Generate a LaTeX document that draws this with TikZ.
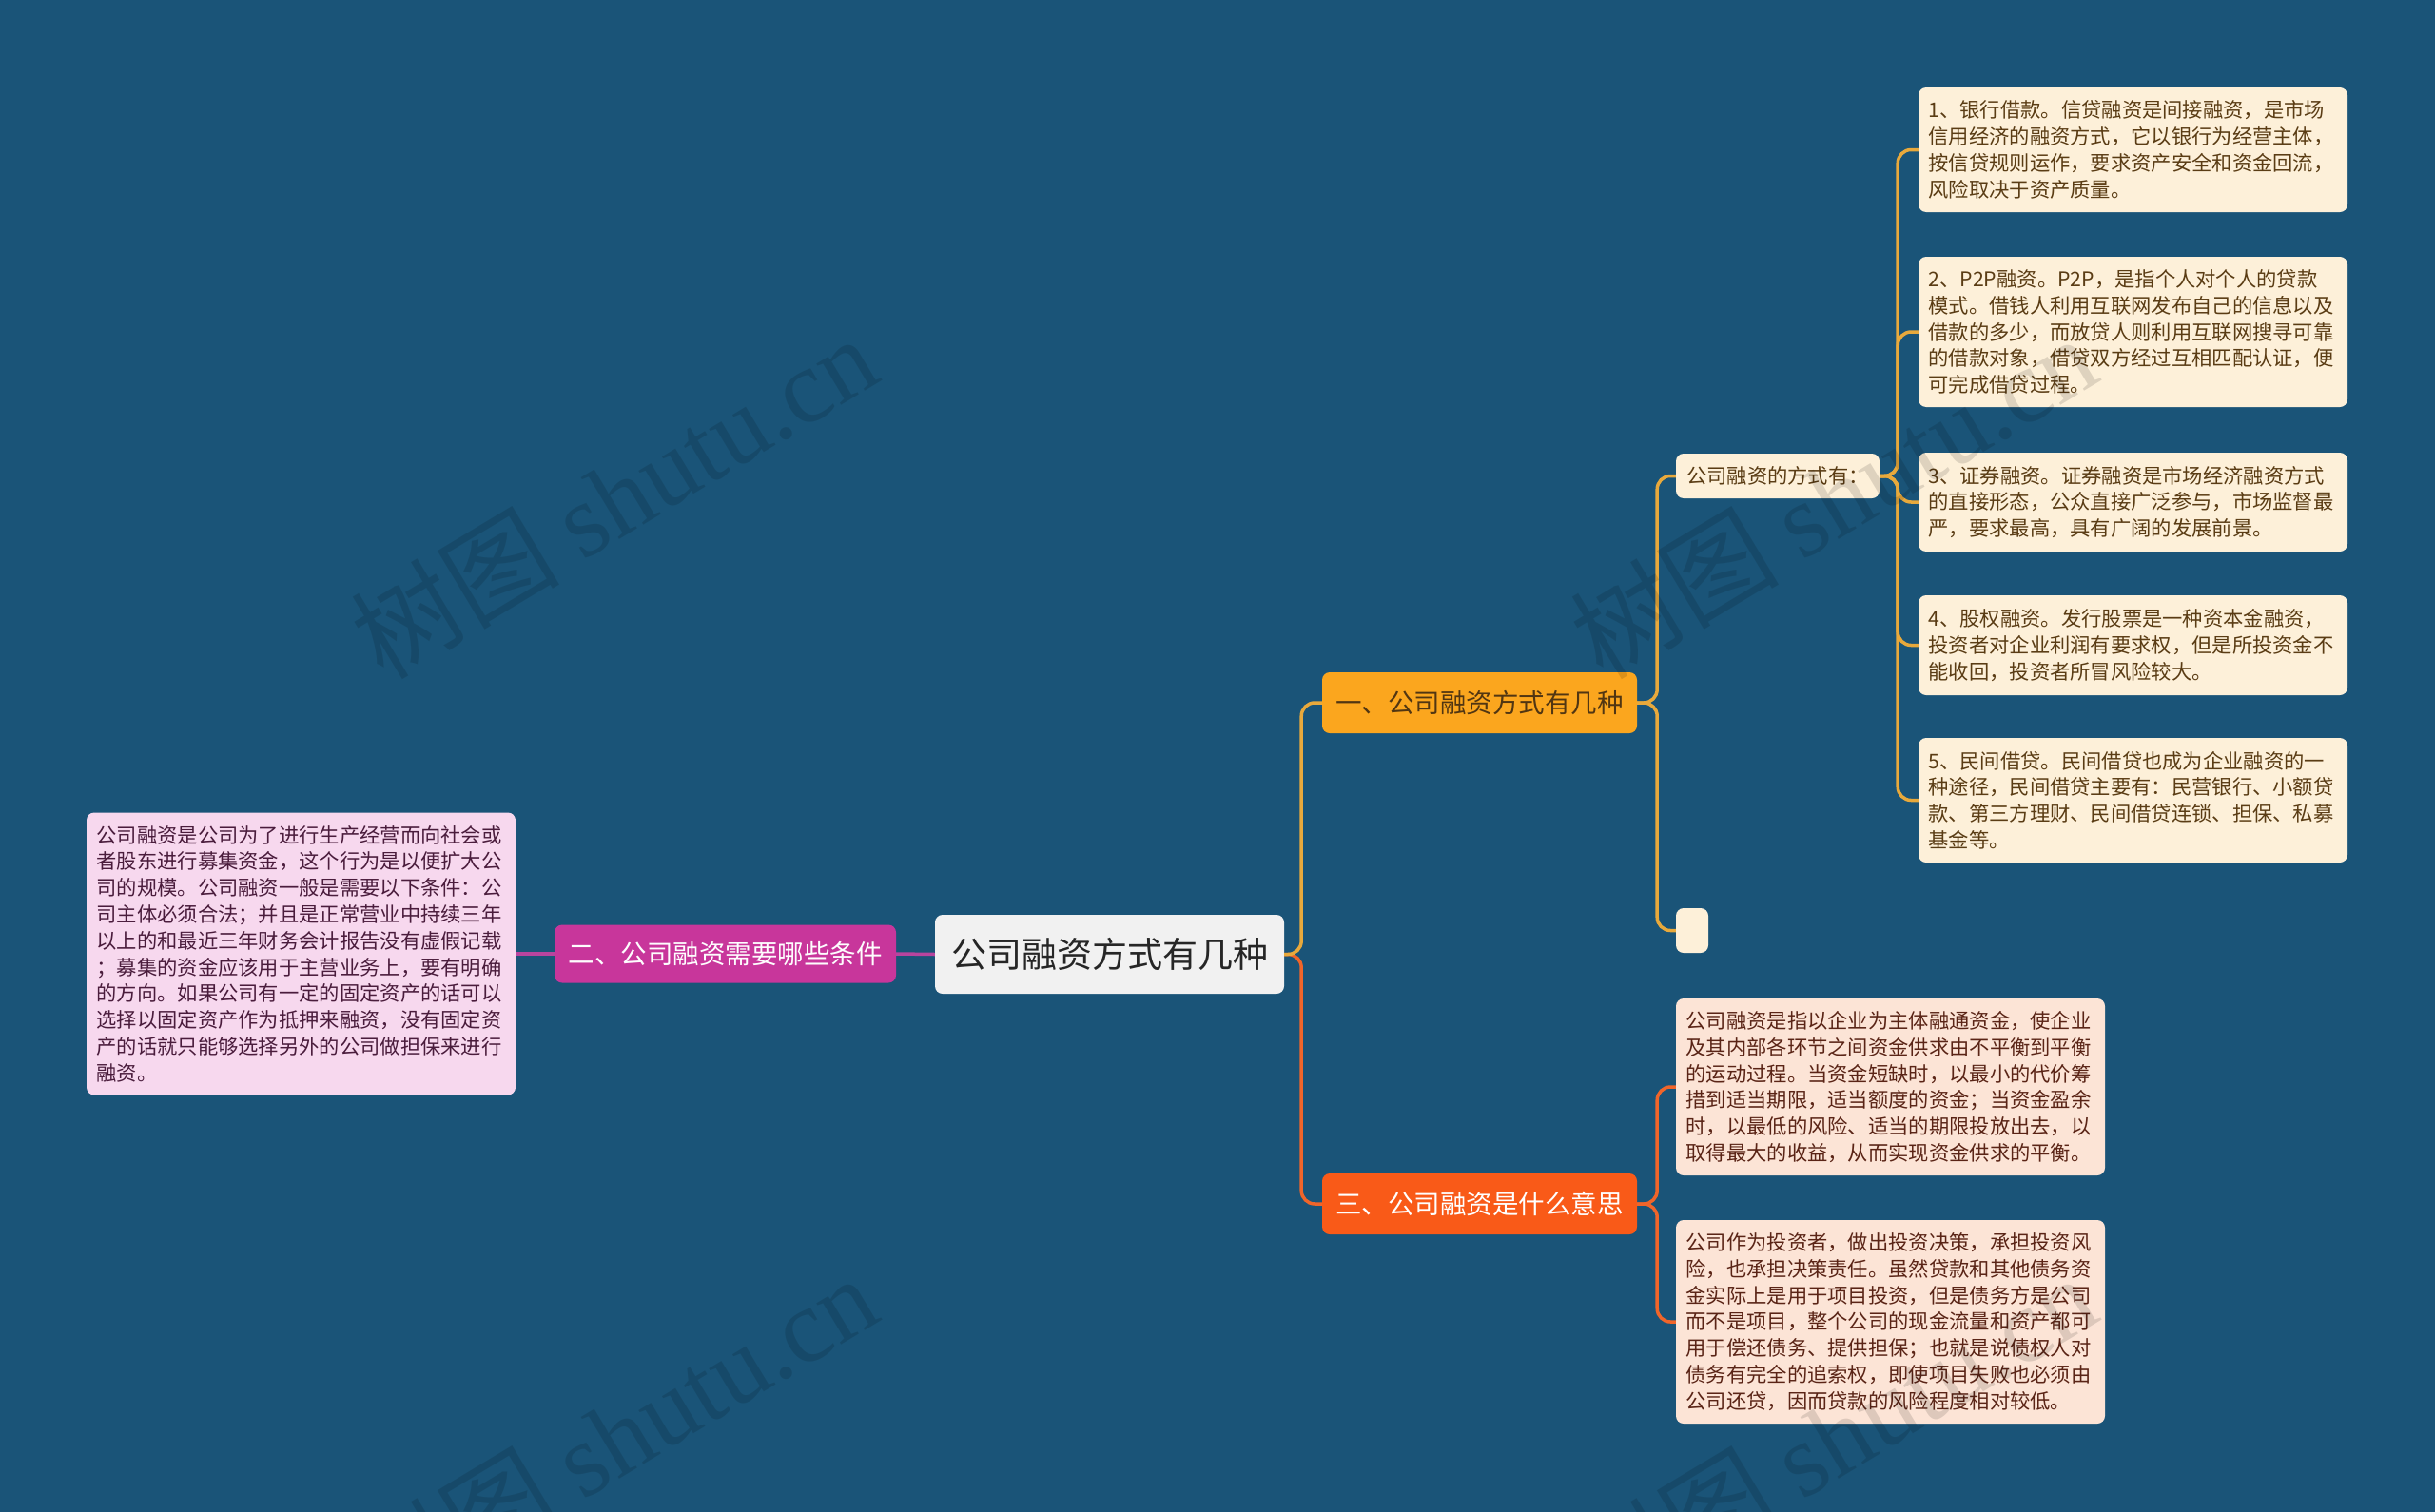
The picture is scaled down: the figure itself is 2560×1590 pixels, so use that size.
\documentclass[tikz,border=0pt]{standalone}
\usepackage{fontspec}
\setmainfont{Noto Sans CJK SC}
\newfontfamily\wmserif{Liberation Serif}
\definecolor{bg}{HTML}{1A5478}
\definecolor{rootfill}{HTML}{F1F1F1}
\definecolor{orfill}{HTML}{FBA61E}
\definecolor{magfill}{HTML}{C8369B}
\definecolor{redfill}{HTML}{F95A18}
\definecolor{cream}{HTML}{FDF0D9}
\definecolor{peach}{HTML}{FCE4D6}
\definecolor{pink}{HTML}{F7D8EE}
\definecolor{browntext}{HTML}{5A3C14}
\definecolor{redtext}{HTML}{5A2416}
\definecolor{pinktext}{HTML}{4A1C3C}
\definecolor{lgold}{HTML}{E8A93C}
\definecolor{lred}{HTML}{F0652A}
\definecolor{lmag}{HTML}{B8449E}
\begin{document}
\begin{tikzpicture}[x=1pt,y=-1pt,
  txtbox/.style={rounded corners=8, inner xsep=10.5, inner ysep=0, align=left,
    text width=430, font=\fontsize{21.3}{27.8}\selectfont},
  cbox/.style={txtbox, fill=cream, text=browntext},
  pbox/.style={txtbox, fill=peach, text=redtext},
  kbox/.style={txtbox, fill=pink, text=pinktext},
  topic/.style={rounded corners=8, inner sep=0, align=center,
    font=\fontsize{27.5}{30}\selectfont},
  conn/.style={line width=3.5pt, rounded corners=14},
  wmark/.style={text=black, opacity=0.12, rotate=31, inner sep=0}
]
\fill[bg] (0,0) rectangle (2560,1590);
\useasboundingbox (0,0) rectangle (2560,1590);

% main and topics
\node[rounded corners=8, fill=rootfill, text=black!85, minimum width=367, minimum height=83,
  inner sep=0, font=\fontsize{37}{40}\selectfont] (root) at (1166.5,1003.5) {公司融资方式有几种};
\node[topic, fill=orfill, text=browntext!90!black, minimum width=331, minimum height=64] (b1) at (1555.5,739) {一、公司融资方式有几种};
\node[topic, fill=magfill, text=white!95!pink, minimum width=359, minimum height=61] (b2) at (762.5,1003) {二、公司融资需要哪些条件};
\node[topic, fill=redfill, text=white, minimum width=331, minimum height=64] (b3) at (1555.5,1266) {三、公司融资是什么意思};

% sub topic
\node[rounded corners=8, fill=cream, text=browntext, minimum width=214, minimum height=47,
  inner sep=0, font=\fontsize{21.3}{24}\selectfont] (ways) at (1869,500.5) {公司融资的方式有：};
\node[rounded corners=8, fill=cream, minimum width=34, minimum height=47, inner sep=0] (empty) at (1779,978.5) {};

% right detail boxes
\node[cbox, minimum height=131] (r1) at (2242.5,157.5) {1、银行借款。信贷融资是间接融资，是市场\\信用经济的融资方式，它以银行为经营主体，\\按信贷规则运作，要求资产安全和资金回流，\\风险取决于资产质量。};
\node[cbox, minimum height=158] (r2) at (2242.5,349) {2、P2P融资。P2P，是指个人对个人的贷款\\模式。借钱人利用互联网发布自己的信息以及\\借款的多少，而放贷人则利用互联网搜寻可靠\\的借款对象，借贷双方经过互相匹配认证，便\\可完成借贷过程。};
\node[cbox, minimum height=104] (r3) at (2242.5,528) {3、证券融资。证券融资是市场经济融资方式\\的直接形态，公众直接广泛参与，市场监督最\\严，要求最高，具有广阔的发展前景。};
\node[cbox, minimum height=105] (r4) at (2242.5,678.5) {4、股权融资。发行股票是一种资本金融资，\\投资者对企业利润有要求权，但是所投资金不\\能收回，投资者所冒风险较大。};
\node[cbox, minimum height=131] (r5) at (2242.5,841.5) {5、民间借贷。民间借贷也成为企业融资的一\\种途径，民间借贷主要有：民营银行、小额贷\\款、第三方理财、民间借贷连锁、担保、私募\\基金等。};

\node[pbox, minimum height=186] (p1) at (1987.5,1143) {公司融资是指以企业为主体融通资金，使企业\\及其内部各环节之间资金供求由不平衡到平衡\\的运动过程。当资金短缺时，以最小的代价筹\\措到适当期限，适当额度的资金；当资金盈余\\时，以最低的风险、适当的期限投放出去，以\\取得最大的收益，从而实现资金供求的平衡。};
\node[pbox, minimum height=214] (p2) at (1987.5,1390) {公司作为投资者，做出投资决策，承担投资风\\险，也承担决策责任。虽然贷款和其他债务资\\金实际上是用于项目投资，但是债务方是公司\\而不是项目，整个公司的现金流量和资产都可\\用于偿还债务、提供担保；也就是说债权人对\\债务有完全的追索权，即使项目失败也必须由\\公司还贷，因而贷款的风险程度相对较低。};

\node[kbox, minimum height=297] (lt) at (316.5,1003) {公司融资是公司为了进行生产经营而向社会或\\者股东进行募集资金，这个行为是以便扩大公\\司的规模。公司融资一般是需要以下条件：公\\司主体必须合法；并且是正常营业中持续三年\\以上的和最近三年财务会计报告没有虚假记载\\；募集的资金应该用于主营业务上，要有明确\\的方向。如果公司有一定的固定资产的话可以\\选择以固定资产作为抵押来融资，没有固定资\\产的话就只能够选择另外的公司做担保来进行\\融资。};

% connectors
\draw[conn, lred] (root.east) -- ++(18,0) |- (b3.west);
\draw[conn, lgold] (root.east) -- ++(18,0) |- (b1.west);
\draw[conn, lmag] (root.west) -- (b2.east);
\draw[conn, lmag] (b2.west) -- (lt.east);
\draw[conn, lgold] (b1.east) -- ++(21,0) |- (ways.west);
\draw[conn, lgold] (b1.east) -- ++(21,0) |- (empty.west);
\foreach \i in {1,...,5} {
  \draw[conn, lgold] (ways.east) -- ++(19,0) |- (r\i.west);
}
\draw[conn, lred] (b3.east) -- ++(21,0) |- (p1.west);
\draw[conn, lred] (b3.east) -- ++(21,0) |- (p2.west);

% watermarks
\node[wmark] (wm1) at (645,522) {\fontsize{110}{120}\selectfont 树图 {\wmserif shutu.cn}};
\node[wmark] (wm2) at (1927,522) {\fontsize{110}{120}\selectfont 树图 {\wmserif shutu.cn}};
\node[wmark] (wm3) at (645,1510) {\fontsize{110}{120}\selectfont 树图 {\wmserif shutu.cn}};
\node[wmark] (wm4) at (1927,1510) {\fontsize{110}{120}\selectfont 树图 {\wmserif shutu.cn}};
\end{tikzpicture}
\end{document}
